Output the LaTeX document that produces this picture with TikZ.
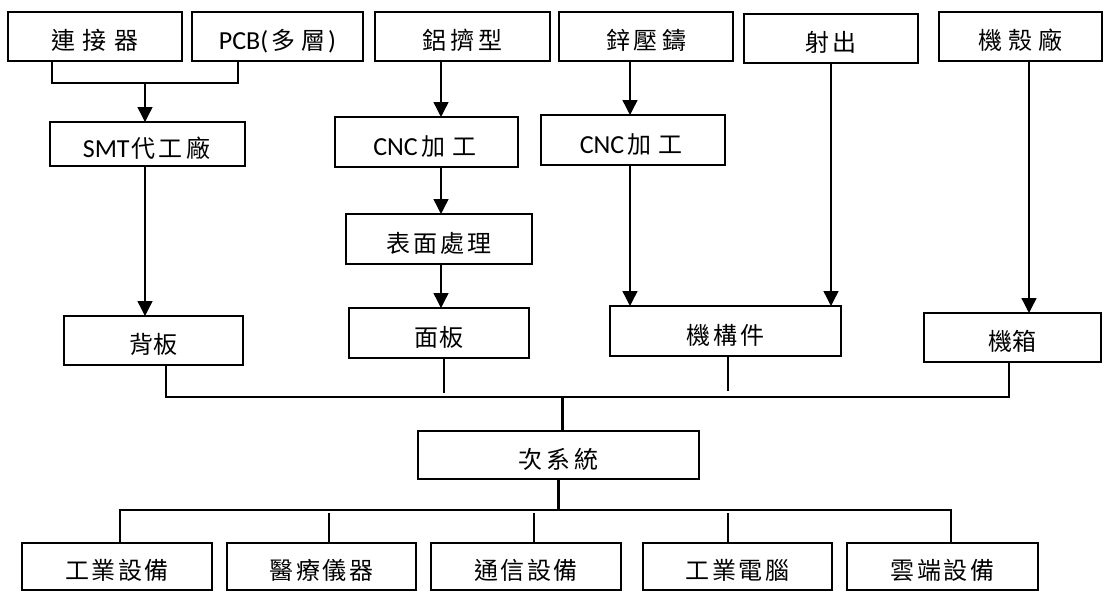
\documentclass[tikz,border=0pt]{standalone}
\usepackage{fontspec}
\setmainfont{Carlito}
\newfontfamily\cjk{Noto Sans CJK TC}
\usetikzlibrary{arrows.meta,calc}
\makeatletter
\newcommand\cjs[2]{{\cjk\fontsize{24pt}{28pt}\selectfont\def\cjpitch{#1}\cj@loop#2\relax}}
\def\cj@loop#1{\ifx\relax#1\else\makebox[\cjpitch pt]{#1}\expandafter\cj@loop\fi}
\makeatother
\newcommand\bx[6]{\node[box,minimum width={(#4-#2)*1pt},minimum height={(#5-#3)*1pt}] (#1) at ({(#2+#4)/2},{(#3+#5)/2}) {#6};}
\begin{document}
\begin{tikzpicture}[x=1pt,y=-1pt,
  box/.style={draw,line width=2.2pt,inner sep=0pt,outer sep=0pt,text height=27pt,text depth=1pt,
    font=\fontsize{26pt}{30pt}\selectfont},
  ln/.style={line width=1.4pt},
  thk/.style={line width=3pt},
  arr/.style={ln,-{Triangle[width=15pt,length=15pt]}}]
\useasboundingbox (0,0) rectangle (1105,592);
% top row
\bx{conn}{8}{12}{182}{61}{\cjs{32}{連接器}}
\bx{pcb}{192}{12}{363}{61}{PCB(\cjs{30}{多層})}
\bx{alu}{375}{12}{550}{61}{\cjs{28}{鋁擠型}}
\bx{zinc}{559}{12}{733}{61}{\cjs{28}{鋅壓鑄}}
\bx{inj}{744}{14}{918}{63}{\cjs{28}{射出}}
\bx{case}{939}{12}{1102}{61}{\cjs{30}{機殼廠}}
% second level
\bx{smt}{50}{122}{245}{166}{SMT\cjs{27.5}{代工廠}}
\bx{cnc1}{335}{117}{518}{167}{CNC\cjs{31}{加工}}
\bx{cnc2}{541}{115}{725}{165}{CNC\cjs{31}{加工}}
\bx{surf}{346}{214}{532}{264}{\cjs{27}{表面處理}}
% parts
\bx{bp}{64}{316}{243}{365}{\cjs{25}{背板}}
\bx{panel}{349}{308}{529}{358}{\cjs{25}{面板}}
\bx{mech}{610}{306}{841}{356}{\cjs{27}{機構件}}
\bx{chassis}{924}{313}{1101}{362}{\cjs{25}{機箱}}
% subsystem
\bx{sub}{418}{431}{699}{479}{\cjs{28}{次系統}}
% applications
\bx{b1}{22}{543}{212}{590}{\cjs{26.5}{工業設備}}
\bx{b2}{227}{543}{416}{590}{\cjs{26.5}{醫療儀器}}
\bx{b3}{431}{543}{621}{590}{\cjs{26.5}{通信設備}}
\bx{b4}{643}{543}{832}{590}{\cjs{26.5}{工業電腦}}
\bx{b5}{847}{543}{1038}{590}{\cjs{26.5}{雲端設備}}
% coordinates
\coordinate (j1) at (145,83);
\coordinate (xb) at (441,0);
\coordinate (xc) at (630,0);
\coordinate (xd) at (1029,0);
\coordinate (bus1) at (562,397);
\coordinate (pe) at (444,393);
\coordinate (me) at (728,391);
\coordinate (bus2) at (558,510);
\coordinate (d2) at (329,513);
\coordinate (d3) at (534,513);
\coordinate (d4) at (728,513);
% connectors
\draw[ln] ([xshift=44pt]conn.south west) |- (j1) -| ([xshift=46pt]pcb.south west);
\draw[arr] (j1) -- (smt.north -| j1);
\draw[arr] (smt.south -| j1) -- (bp.north -| j1);
\draw[arr] (alu.south -| xb) -- (cnc1.north -| xb);
\draw[arr] (cnc1.south -| xb) -- (surf.north -| xb);
\draw[arr] (surf.south -| xb) -- (panel.north -| xb);
\draw[arr] (zinc.south -| xc) -- (cnc2.north -| xc);
\draw[arr] (cnc2.south -| xc) -- (mech.north -| xc);
\draw[arr] (inj.south) -- (mech.north -| inj.south);
\draw[arr] (case.south -| xd) -- (chassis.north -| xd);
\draw[ln] ([xshift=102pt]bp.south west) |- (bus1) -| ([xshift=85pt]chassis.south west);
\draw[ln] (panel.south -| pe) -- (pe);
\draw[ln] (mech.south -| me) -- (me);
\draw[thk] (bus1) -- (sub.north -| bus1);
\draw[thk] (sub.south -| bus2) -- (bus2);
\draw[ln] ([xshift=98pt]b1.north west) |- (bus2) -| ([xshift=104pt]b5.north west);
\draw[ln] (d2) -- (b2.north -| d2);
\draw[ln] (d3) -- (b3.north -| d3);
\draw[ln] (d4) -- (b4.north -| d4);
\end{tikzpicture}
\end{document}
